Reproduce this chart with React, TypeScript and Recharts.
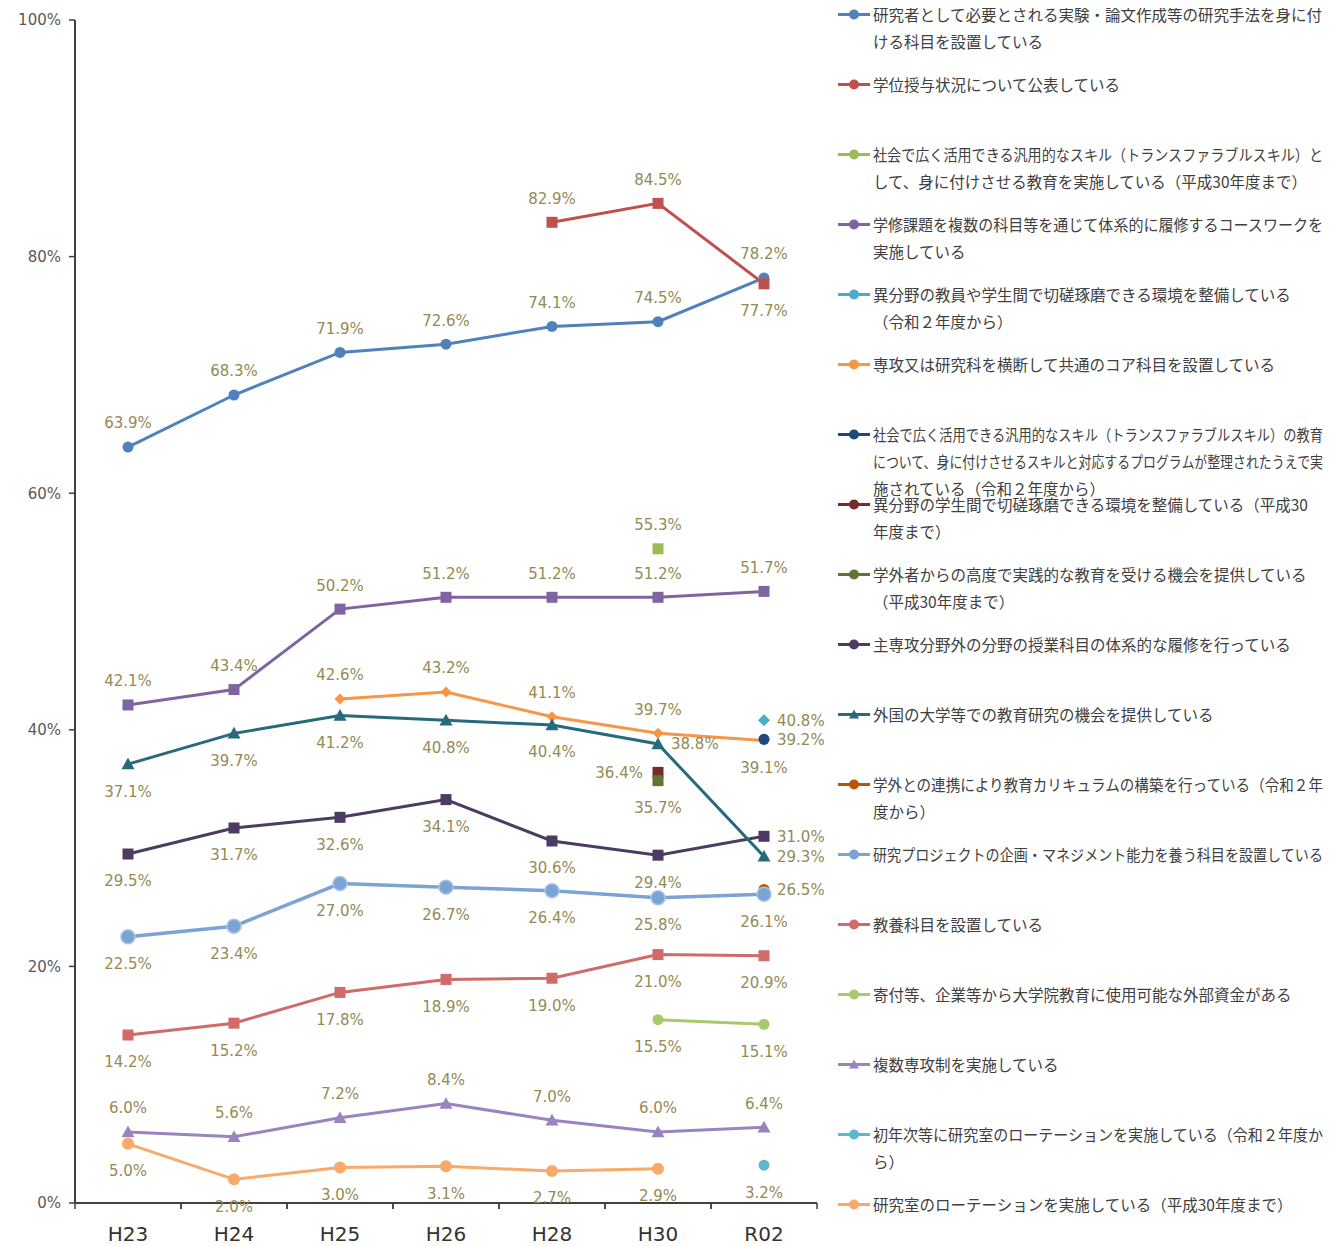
import React, { useLayoutEffect, useRef, useState } from 'react';
import { LineChart, Line, XAxis, YAxis, Legend, LabelList } from 'recharts';

// ---------- categories & ticks ----------
const categories = ['H23', 'H24', 'H25', 'H26', 'H28', 'H30', 'R02'];
const yTicks = [0, 20, 40, 60, 80, 100];

// ---------- series values (%) ----------
const v01 = [63.9, 68.3, 71.9, 72.6, 74.1, 74.5, 78.2];
const v02 = [null, null, null, null, 82.9, 84.5, 77.7];
const v03 = [null, null, null, null, null, 55.3, null];
const v04 = [42.1, 43.4, 50.2, 51.2, 51.2, 51.2, 51.7];
const v05 = [null, null, null, null, null, null, 40.8];
const v06 = [null, null, 42.6, 43.2, 41.1, 39.7, 39.1];
const v07 = [null, null, null, null, null, null, 39.2];
const v08 = [null, null, null, null, null, 36.4, null];
const v09 = [null, null, null, null, null, 35.7, null];
const v10 = [29.5, 31.7, 32.6, 34.1, 30.6, 29.4, 31.0];
const v11 = [37.1, 39.7, 41.2, 40.8, 40.4, 38.8, 29.3];
const v12 = [null, null, null, null, null, null, 26.5];
const v13 = [22.5, 23.4, 27.0, 26.7, 26.4, 25.8, 26.1];
const v14 = [14.2, 15.2, 17.8, 18.9, 19.0, 21.0, 20.9];
const v15 = [null, null, null, null, null, 15.5, 15.1];
const v16 = [6.0, 5.6, 7.2, 8.4, 7.0, 6.0, 6.4];
const v17 = [null, null, null, null, null, null, 3.2];
const v18 = [5.0, 2.0, 3.0, 3.1, 2.7, 2.9, null];

// ---------- series names (legend lines) ----------
const n01 = ['研究者として必要とされる実験・論文作成等の研究手法を身に付', 'ける科目を設置している'];
const n02 = ['学位授与状況について公表している'];
const n03 = ['社会で広く活用できる汎用的なスキル（トランスファラブルスキル）と', 'して、身に付けさせる教育を実施している（平成30年度まで）'];
const n04 = ['学修課題を複数の科目等を通じて体系的に履修するコースワークを', '実施している'];
const n05 = ['異分野の教員や学生間で切磋琢磨できる環境を整備している', '（令和２年度から）'];
const n06 = ['専攻又は研究科を横断して共通のコア科目を設置している'];
const n07 = ['社会で広く活用できる汎用的なスキル（トランスファラブルスキル）の教育', 'について、身に付けさせるスキルと対応するプログラムが整理されたうえで実', '施されている（令和２年度から）'];
const n08 = ['異分野の学生間で切磋琢磨できる環境を整備している（平成30', '年度まで）'];
const n09 = ['学外者からの高度で実践的な教育を受ける機会を提供している', '（平成30年度まで）'];
const n10 = ['主専攻分野外の分野の授業科目の体系的な履修を行っている'];
const n11 = ['外国の大学等での教育研究の機会を提供している'];
const n12 = ['学外との連携により教育カリキュラムの構築を行っている（令和２年', '度から）'];
const n13 = ['研究プロジェクトの企画・マネジメント能力を養う科目を設置している'];
const n14 = ['教養科目を設置している'];
const n15 = ['寄付等、企業等から大学院教育に使用可能な外部資金がある'];
const n16 = ['複数専攻制を実施している'];
const n17 = ['初年次等に研究室のローテーションを実施している（令和２年度か', 'ら）'];
const n18 = ['研究室のローテーションを実施している（平成30年度まで）'];

// ---------- label placement per point ----------
const T = 'top', B = 'bottom', R = 'right', L = 'left';
const p01 = [T, T, T, T, T, T, T];
const p02 = [T, T, T, T, T, T, B];
const p03 = [T, T, T, T, T, T, T];
const p04 = [T, T, T, T, T, T, T];
const p05 = [R, R, R, R, R, R, R];
const p06 = [T, T, T, T, T, T, B];
const p07 = [R, R, R, R, R, R, R];
const p08 = [L, L, L, L, L, L, L];
const p09 = [B, B, B, B, B, B, B];
const p10 = [B, B, B, B, B, B, R];
const p11 = [B, B, B, B, B, R, R];
const p12 = [R, R, R, R, R, R, R];
const p13 = [B, B, B, B, B, B, B];
const p14 = [B, B, B, B, B, B, B];
const p15 = [B, B, B, B, B, B, B];
const p16 = [T, T, T, T, T, T, T];
const p17 = [B, B, B, B, B, B, B];
const p18 = [B, B, B, B, B, B, B];

type Shape = 'circle' | 'square' | 'diamond' | 'triangle';
interface SeriesDef {
  key: string;
  lines: string[];
  values: (number | null)[];
  color: string;
  shape: Shape;
  size: number;
  labels: string[];
  ring?: string;
}

const series: SeriesDef[] = [
  { key: 's01', lines: n01, values: v01, color: '#4F81BD', shape: 'circle', size: 11, labels: p01 },
  { key: 's02', lines: n02, values: v02, color: '#C0504D', shape: 'square', size: 11, labels: p02 },
  { key: 's03', lines: n03, values: v03, color: '#9BBB59', shape: 'square', size: 11, labels: p03 },
  { key: 's04', lines: n04, values: v04, color: '#8064A2', shape: 'square', size: 11, labels: p04 },
  { key: 's05', lines: n05, values: v05, color: '#4BACC6', shape: 'diamond', size: 12, labels: p05 },
  { key: 's06', lines: n06, values: v06, color: '#F79646', shape: 'diamond', size: 11, labels: p06 },
  { key: 's07', lines: n07, values: v07, color: '#1F497D', shape: 'circle', size: 11, labels: p07 },
  { key: 's08', lines: n08, values: v08, color: '#772C2A', shape: 'square', size: 11, labels: p08 },
  { key: 's09', lines: n09, values: v09, color: '#5F7530', shape: 'square', size: 11, labels: p09 },
  { key: 's10', lines: n10, values: v10, color: '#4D3B62', shape: 'square', size: 11, labels: p10 },
  { key: 's11', lines: n11, values: v11, color: '#276A7C', shape: 'triangle', size: 13, labels: p11 },
  { key: 's12', lines: n12, values: v12, color: '#B65708', shape: 'circle', size: 11, labels: p12 },
  { key: 's13', lines: n13, values: v13, color: '#7BA3D3', shape: 'circle', size: 14, labels: p13, ring: '#A9C4E6' },
  { key: 's14', lines: n14, values: v14, color: '#D06B69', shape: 'square', size: 11, labels: p14 },
  { key: 's15', lines: n15, values: v15, color: '#A8C96C', shape: 'circle', size: 11, labels: p15 },
  { key: 's16', lines: n16, values: v16, color: '#9A83BF', shape: 'triangle', size: 13, labels: p16 },
  { key: 's17', lines: n17, values: v17, color: '#5CB8CE', shape: 'circle', size: 11, labels: p17 },
  { key: 's18', lines: n18, values: v18, color: '#F9A968', shape: 'circle', size: 12, labels: p18 },
];

const tableData = categories.map((cat, i) => {
  const row: Record<string, any> = { cat };
  series.forEach((s) => {
    row[s.key] = s.values[i];
  });
  return row;
});

// ---------- drawing helpers ----------
const LABEL_COLOR = '#948A54';
const NUM_FONT = '"DejaVu Sans", Verdana, sans-serif';
const JP_FONT = '"Noto Sans CJK JP", "Noto Sans", sans-serif';
const AXIS_COLOR = '#404040';
const LEGEND_TEXT_MAX = 450;
const CHART_W = 1318;
const CHART_H = 1238;

function Marker({ shape, color, x, y, size, ring }: { shape: Shape; color: string; x: number; y: number; size: number; ring?: string }) {
  const h = size / 2;
  if (shape === 'circle') {
    return <circle cx={x} cy={y} r={h} fill={color} stroke={ring || color} strokeWidth={ring ? 1.5 : 0} />;
  }
  if (shape === 'square') {
    return <rect x={x - h} y={y - h} width={size} height={size} fill={color} />;
  }
  if (shape === 'diamond') {
    return <polygon points={`${x},${y - h} ${x + h},${y} ${x},${y + h} ${x - h},${y}`} fill={color} />;
  }
  return <polygon points={`${x},${y - h} ${x + h},${y + h * 0.8} ${x - h},${y + h * 0.8}`} fill={color} />;
}

const makeDot = (s: SeriesDef) => (props: any) => {
  const { cx, cy, index } = props;
  if (cx == null || cy == null || Number.isNaN(cy) || s.values[index] == null) {
    return <g key={`${s.key}-d-${index}`} />;
  }
  return (
    <g key={`${s.key}-d-${index}`}>
      <Marker shape={s.shape} color={s.color} x={cx} y={cy} size={s.size} ring={s.ring} />
    </g>
  );
};

const makeLabel = (s: SeriesDef) => (props: any) => {
  const vb = props.viewBox || {};
  const x = props.x ?? vb.x;
  const y = props.y ?? vb.y;
  const index = props.index;
  const value = s.values[index];
  if (value == null || x == null || y == null) return null;
  const pos = s.labels[index];
  let tx = x;
  let ty = y;
  let anchor: 'middle' | 'start' | 'end' = 'middle';
  if (pos === 'top') ty = y - 24;
  else if (pos === 'bottom') ty = y + 27;
  else if (pos === 'right') {
    tx = x + 13;
    anchor = 'start';
  } else {
    tx = x - 15;
    anchor = 'end';
  }
  return (
    <text x={tx} y={ty} dy="0.36em" textAnchor={anchor} fontSize={15} fill={LABEL_COLOR} fontFamily={NUM_FONT}>
      {value.toFixed(1)}%
    </text>
  );
};

const X_LABEL_GAP = 31;

const XTick = (props: any) => {
  const { x, y, payload, width, visibleTicksCount } = props;
  const half = payload && payload.offset != null ? payload.offset : width / (visibleTicksCount || 7) / 2;
  const axisY = y - X_LABEL_GAP;
  return (
    <g>
      <line x1={x - half} x2={x - half} y1={axisY} y2={axisY + 6} stroke={AXIS_COLOR} strokeWidth={1.5} />
      <line x1={x + half} x2={x + half} y1={axisY} y2={axisY + 6} stroke={AXIS_COLOR} strokeWidth={1.5} />
      <text x={x} y={y} dy="0.36em" textAnchor="middle" fontSize={20} fill="#333333" fontFamily={NUM_FONT}>
        {payload.value}
      </text>
    </g>
  );
};

function FitLine({ text }: { text: string }) {
  const ref = useRef<HTMLSpanElement>(null);
  const [scale, setScale] = useState(1);
  useLayoutEffect(() => {
    if (ref.current) {
      const w = ref.current.getBoundingClientRect().width / scale;
      if (w > LEGEND_TEXT_MAX) setScale(LEGEND_TEXT_MAX / w);
    }
  }, [text]);
  return (
    <div style={{ height: 27, whiteSpace: 'nowrap' }}>
      <span
        ref={ref}
        style={{
          display: 'inline-block',
          whiteSpace: 'nowrap',
          transform: `scaleX(${scale})`,
          transformOrigin: '0 50%',
        }}
      >
        {text}
      </span>
    </div>
  );
}

const LegendContent = () => (
  <div style={{ position: 'relative', width: 488, height: CHART_H, fontFamily: JP_FONT }}>
    {series.map((s, i) => (
      <div
        key={s.key}
        style={{
          position: 'absolute',
          left: 0,
          top: i * 70 - 7.5,
          display: 'flex',
          alignItems: 'flex-start',
        }}
      >
        <svg width={34} height={27} style={{ flex: '0 0 auto' }}>
          <line x1={0} x2={32} y1={13.5} y2={13.5} stroke={s.color} strokeWidth={3} />
          <Marker shape={s.shape === 'triangle' ? 'triangle' : 'circle'} color={s.color} x={16} y={13.5} size={10} />
        </svg>
        <div
          style={{
            marginLeft: 1,
            fontSize: 15.5,
            lineHeight: '27px',
            color: '#404040',
            width: LEGEND_TEXT_MAX,
          }}
        >
          {s.lines.map((ln, k) => (
            <FitLine key={k} text={ln} />
          ))}
        </div>
      </div>
    ))}
  </div>
);

export default function App() {
  return (
    <div style={{ width: CHART_W, height: CHART_H }}>
      <LineChart width={CHART_W} height={CHART_H} data={tableData} margin={{ top: 12, right: 509, bottom: 0, left: 0 }}>
        <XAxis
          dataKey="cat"
          scale="band"
          tick={<XTick />}
          tickLine={false}
          tickSize={0}
          tickMargin={X_LABEL_GAP}
          height={43}
          axisLine={{ stroke: AXIS_COLOR, strokeWidth: 2 }}
          interval={0}
        />
        <YAxis
          type="number"
          domain={[0, 100]}
          ticks={yTicks}
          width={67}
          tickFormatter={(v: number) => `${v}%`}
          tick={{ fontSize: 15, fill: '#595959', fontFamily: NUM_FONT }}
          tickSize={6}
          tickMargin={8}
          tickLine={{ stroke: AXIS_COLOR, strokeWidth: 1.5 }}
          axisLine={{ stroke: AXIS_COLOR, strokeWidth: 2 }}
        />
        <Legend
          layout="vertical"
          align="center"
          verticalAlign="middle"
          wrapperStyle={{ left: 830, top: 0, width: 488, height: CHART_H }}
          content={<LegendContent />}
        />
        {series.map((s) => (
          <Line
            key={s.key}
            dataKey={s.key}
            name={s.lines.join('')}
            stroke={s.color}
            strokeWidth={s.key === 's13' ? 3.5 : 3}
            type="linear"
            connectNulls={false}
            dot={makeDot(s)}
            activeDot={false}
            isAnimationActive={false}
          >
            <LabelList dataKey={s.key} content={makeLabel(s)} />
          </Line>
        ))}
      </LineChart>
    </div>
  );
}
